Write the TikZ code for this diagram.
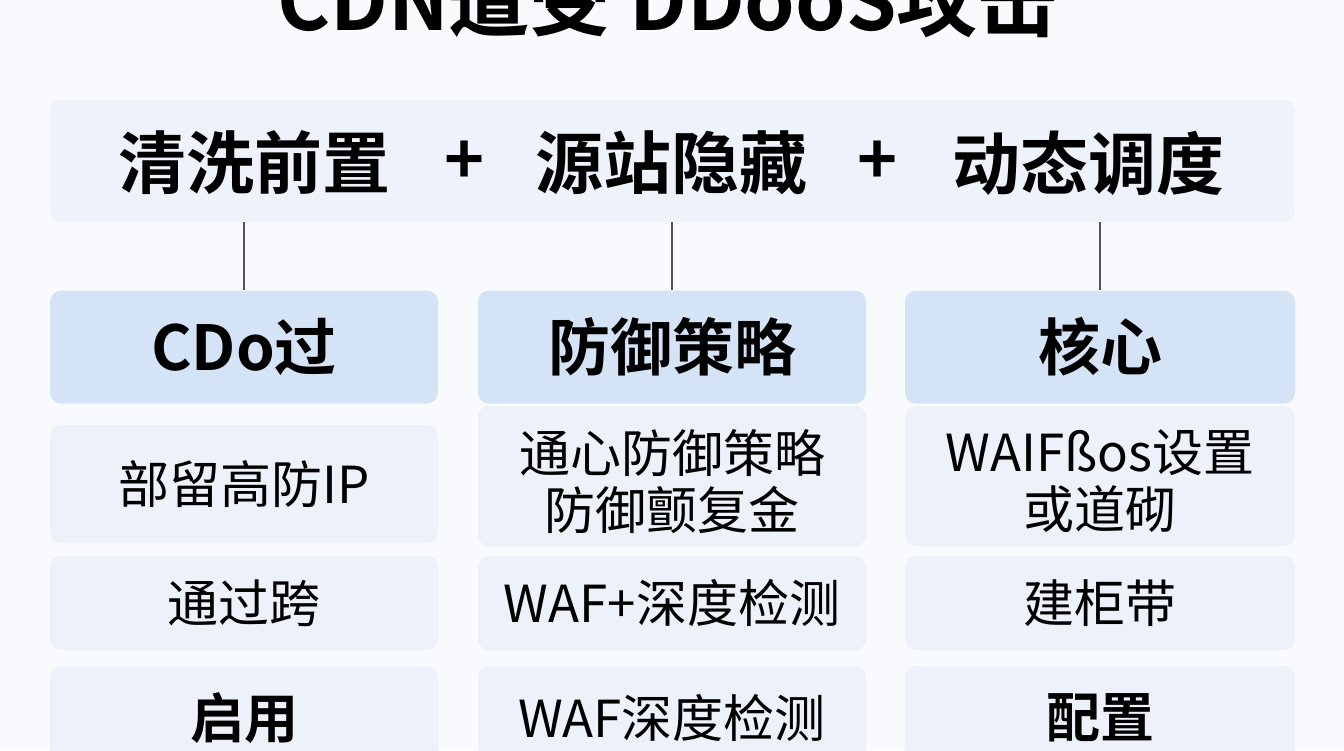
\documentclass[tikz,border=0pt]{standalone}
\usepackage{fontspec}
\setmainfont{Noto Sans CJK SC}[BoldFont={Noto Sans CJK SC Bold}]
\definecolor{bgc}{HTML}{F8FAFD}
\definecolor{boxc}{HTML}{EDF2FA}
\definecolor{bannerc}{HTML}{EEF3FB}
\definecolor{hdrc}{HTML}{D4E3F5}
\definecolor{linec}{HTML}{555555}
\begin{document}
\begin{tikzpicture}[x=1pt,y=-1pt,
  panel/.style={fill=#1, rounded corners=11pt, inner sep=0pt},
  titlefont/.style={font=\fontsize{81pt}{90pt}\selectfont\bfseries},
  bigfont/.style={font=\fontsize{68pt}{74pt}\selectfont\bfseries},
  hdrfont/.style={font=\fontsize{62pt}{68pt}\selectfont\bfseries},
  rowfont/.style={font=\fontsize{51pt}{57pt}\selectfont, align=center},
  rowbold/.style={font=\fontsize{54pt}{60pt}\selectfont\bfseries},
  link/.style={draw=linec, line width=1.2pt}]
\useasboundingbox (0,0) rectangle (1344,750);
\fill[bgc] (0,0) rectangle (1344,750);
\clip (0,0) rectangle (1344,750);

% title (cut at the top, as in the reference)
\node[titlefont, anchor=base, inner sep=0pt] (title) at (668,30) {CDN遭受 DDooS攻击};

% banner
\node[panel=bannerc, minimum width=1245pt, minimum height=122pt] (banner) at (672.5,161) {};
\node[bigfont] (t1) at (254,163) {清洗前置};
\node[bigfont] (p1) at (465,163) {+};
\node[bigfont] (t2) at (671,163) {源站隐藏};
\node[bigfont] (p2) at (878,163) {+};
\node[bigfont] (t3) at (1088,163) {动态调度};

% headers
\node[panel=hdrc, minimum width=388pt, minimum height=113pt, hdrfont] (h1) at (244,347) {CDo过};
\node[panel=hdrc, minimum width=388pt, minimum height=113pt, hdrfont] (h2) at (672,347) {防御策略};
\node[panel=hdrc, minimum width=390pt, minimum height=113pt, hdrfont] (h3) at (1100,347) {核心};

% connectors
\draw[link] (banner.south -| h1.north) -- (h1.north);
\draw[link] (banner.south -| h2.north) -- (h2.north);
\draw[link] (banner.south -| h3.north) -- (h3.north);

% row 1
\node[panel=boxc, minimum width=388pt, minimum height=118pt, rowfont] (a1) at (244,484) {部留高防IP};
\node[panel=boxc, minimum width=388pt, minimum height=140pt] (b1) at (672,476) {};
\node[rowfont] (b1t) at (672,482) {通心防御策略\\防御颤复金};
\node[panel=boxc, minimum width=390pt, minimum height=140pt] (c1) at (1100,476) {};
\node[rowfont] (c1t) at (1100,481) {WAIFßos设置\\或道砌};

% row 2
\node[panel=boxc, minimum width=388pt, minimum height=94pt, rowfont] (a2) at (244,603) {通过跨};
\node[panel=boxc, minimum width=388pt, minimum height=94pt, rowfont] (b2) at (672,603) {WAF+深度检测};
\node[panel=boxc, minimum width=390pt, minimum height=94pt, rowfont] (c2) at (1100,603) {建柜带};

% row 3 (cut at the bottom)
\node[panel=boxc, minimum width=388pt, minimum height=104pt, rowbold] (a3) at (244,718) {启用};
\node[panel=boxc, minimum width=388pt, minimum height=104pt, rowfont] (b3) at (672,718) {WAF深度检测};
\node[panel=boxc, minimum width=390pt, minimum height=104pt, rowbold] (c3) at (1100,718) {配置};
\end{tikzpicture}
\end{document}
